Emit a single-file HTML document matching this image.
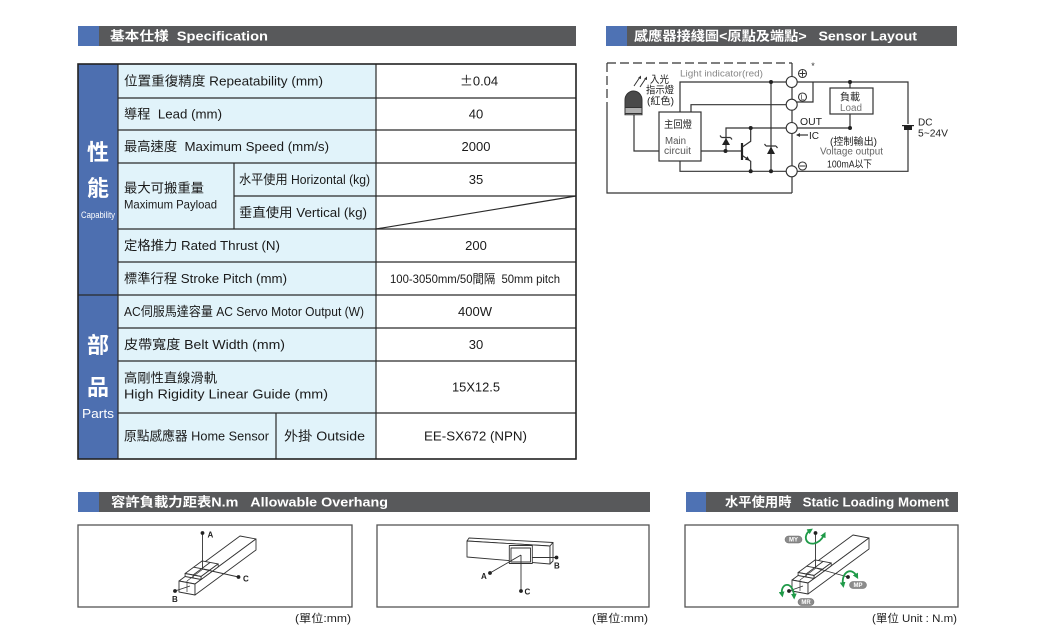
<!DOCTYPE html>
<html><head><meta charset="utf-8"><style>
html,body{margin:0;padding:0;background:#fff;}
svg{display:block;}
text{font-family:"Liberation Sans","Noto Sans CJK TC",sans-serif;}
</style></head><body>
<svg width="1037" height="627" viewBox="0 0 1037 627" xmlns="http://www.w3.org/2000/svg">
<defs>
<marker id="ga" viewBox="0 0 10 10" refX="4" refY="5" markerWidth="3.2" markerHeight="3.2" orient="auto-start-reverse"><path d="M0,0 L10,5 L0,10 z" fill="#1f9a48"/></marker>
</defs>
<rect width="1037" height="627" fill="#fff"/>

<!-- Header bars -->
<rect x="78" y="26" width="498" height="20" fill="#58595b"/>
<rect x="78" y="26" width="21" height="20" fill="#4e72b4"/>
<text x="110" y="40.5" font-size="13" font-weight="bold" fill="#fff" textLength="158" lengthAdjust="spacingAndGlyphs">基本仕様&#160;&#160;Specification</text>

<rect x="606" y="26" width="351" height="20" fill="#58595b"/>
<rect x="606" y="26" width="21" height="20" fill="#4e72b4"/>
<text x="634" y="40.5" font-size="13" font-weight="bold" fill="#fff" textLength="283" lengthAdjust="spacingAndGlyphs">感應器接綫圖&lt;原點及端點&gt;&#160;&#160;&#160;Sensor Layout</text>

<rect x="78" y="492" width="572" height="20" fill="#58595b"/>
<rect x="78" y="492" width="21" height="20" fill="#4e72b4"/>
<text x="111" y="506.5" font-size="13" font-weight="bold" fill="#fff" textLength="277" lengthAdjust="spacingAndGlyphs">容許負載力距表N.m&#160;&#160;&#160;Allowable Overhang</text>

<rect x="686" y="492" width="272" height="20" fill="#58595b"/>
<rect x="686" y="492" width="20" height="20" fill="#4e72b4"/>
<text x="725" y="506.5" font-size="13" font-weight="bold" fill="#fff" textLength="224" lengthAdjust="spacingAndGlyphs">水平使用時&#160;&#160;&#160;Static Loading Moment</text>

<!-- Spec table -->
<rect x="78" y="64" width="40" height="395" fill="#4d6fb0"/>
<rect x="118" y="64" width="258" height="395" fill="#e1f3fa"/>
<rect x="376" y="64" width="200" height="395" fill="#fff"/>
<g stroke="#2a2a2a" stroke-width="1.2" fill="none">
<path d="M118,98H576M118,130H576M118,163H576M234,196H576M118,229H576M118,262H576M118,328H576M118,361H576M118,413H576"/>
<path d="M78,295H576"/>
<path d="M118,64V459M376,64V459M234,163V229M276,413V459"/>
<path d="M376,229L576,196"/>
</g>
<rect x="78" y="64" width="498" height="395" fill="none" stroke="#222" stroke-width="1.6"/>

<g fill="#fff" font-weight="bold" text-anchor="middle">
<text x="98" y="160" font-size="22">性</text>
<text x="98" y="196" font-size="22">能</text>
<text x="98" y="218" font-size="9" font-weight="normal" textLength="34" lengthAdjust="spacingAndGlyphs">Capability</text>
<text x="98" y="353" font-size="22">部</text>
<text x="98" y="395" font-size="22">品</text>
<text x="98" y="418" font-size="13" font-weight="normal" textLength="32" lengthAdjust="spacingAndGlyphs">Parts</text>
</g>

<g fill="#1a1a1a" font-size="13">
<text x="124" y="85.5" textLength="199" lengthAdjust="spacingAndGlyphs">位置重復精度 Repeatability (mm)</text>
<text x="124" y="118.5" textLength="98" lengthAdjust="spacingAndGlyphs">導程&#160;&#160;Lead (mm)</text>
<text x="124" y="151" textLength="205" lengthAdjust="spacingAndGlyphs">最高速度&#160;&#160;Maximum Speed (mm/s)</text>
<text x="124" y="192.5" textLength="80" lengthAdjust="spacingAndGlyphs">最大可搬重量</text>
<text x="124" y="208.5" font-size="12" textLength="93" lengthAdjust="spacingAndGlyphs">Maximum Payload</text>
<text x="239" y="184" textLength="131" lengthAdjust="spacingAndGlyphs">水平使用 Horizontal (kg)</text>
<text x="239" y="217" textLength="128" lengthAdjust="spacingAndGlyphs">垂直使用 Vertical (kg)</text>
<text x="124" y="250" textLength="156" lengthAdjust="spacingAndGlyphs">定格推力 Rated Thrust (N)</text>
<text x="124" y="283" textLength="163" lengthAdjust="spacingAndGlyphs">標準行程 Stroke Pitch (mm)</text>
<text x="124" y="316" textLength="240" lengthAdjust="spacingAndGlyphs">AC伺服馬達容量 AC Servo Motor Output (W)</text>
<text x="124" y="349" textLength="161" lengthAdjust="spacingAndGlyphs">皮帶寬度 Belt Width (mm)</text>
<text x="124" y="382.5" textLength="93" lengthAdjust="spacingAndGlyphs">高剛性直線滑軌</text>
<text x="124" y="398.5" textLength="204" lengthAdjust="spacingAndGlyphs">High Rigidity Linear Guide (mm)</text>
<text x="124" y="440.5" textLength="145" lengthAdjust="spacingAndGlyphs">原點感應器 Home Sensor</text>
<text x="284" y="440.5" textLength="81" lengthAdjust="spacingAndGlyphs">外掛 Outside</text>
</g>
<g fill="#1a1a1a" font-size="13" text-anchor="middle">
<text x="479" y="85.5"><tspan font-family="Noto Sans CJK TC, sans-serif">±</tspan>0.04</text>
<text x="476" y="118.5">40</text>
<text x="476" y="151">2000</text>
<text x="476" y="184">35</text>
<text x="476" y="250">200</text>
<text x="475" y="283" font-size="12" textLength="170" lengthAdjust="spacingAndGlyphs">100-3050mm/50間隔&#160;&#160;50mm pitch</text>
<text x="475" y="316">400W</text>
<text x="476" y="349">30</text>
<text x="476" y="391.5" textLength="48" lengthAdjust="spacingAndGlyphs">15X12.5</text>
<text x="475.5" y="440.5" textLength="103" lengthAdjust="spacingAndGlyphs">EE-SX672 (NPN)</text>
</g>

<!-- Sensor layout -->
<g stroke="#333" stroke-width="1.2" fill="none">
<path d="M607,63H792" stroke-dasharray="9 4"/>
<path d="M607,63V105" stroke-dasharray="9 4"/>
<path d="M607,105V193H792M792,63V193"/>
<path d="M680,112V82H786M797,82H908V124M908,130V171.3H797"/>
<path d="M691,112V104.7H786M797,102H813V82"/>
<path d="M771,82V171.3"/>
<path d="M786,128H726V151M797,128H850V114M850,82V88"/>
<path d="M701,151H742"/>
<path d="M742,147.3L750.7,141.3V128M742,155.3L750.7,161.3V171.3"/>
<path d="M786,171.3H680V161"/>
<path d="M634,114.7V151H659"/>
<path d="M766,146H776M766,146l-1.5,-2M776,146l1.5,2"/>
<path d="M721.5,137.5H730.5M721.5,137.5l-1.5,-2M730.5,137.5l1.5,2"/>
<path d="M797,135H808"/>
<path d="M634,86L640,77M640,87L646,78" stroke-width="1"/>
</g>
<path d="M742,143V160" stroke="#222" stroke-width="2.2"/>
<polygon points="749.8,160.6 745,159.8 747.4,156.2" fill="#222"/>
<polygon points="771,146.5 767,154 775,154" fill="#222"/>
<polygon points="726,138 722,145 730,145" fill="#222"/>
<polygon points="796,135 800,133 800,137" fill="#333"/>
<polygon points="641,75.5 638,78 641,79" fill="#333"/>
<polygon points="647,76.5 644,79 647,80" fill="#333"/>
<rect x="659" y="112" width="42" height="49" fill="#fff" stroke="#333" stroke-width="1.2"/>
<rect x="830" y="88" width="43" height="26" fill="#fff" stroke="#333" stroke-width="1.2"/>
<path d="M625,111V100A8.5,9 0 0 1 642,100V111Z" fill="#4a4a4a" stroke="#333" stroke-width="1"/>
<rect x="625" y="107.5" width="17" height="6" fill="#b0b0b0" stroke="#333" stroke-width="1"/>
<path d="M625,113.5V114.7H642V113.5" fill="none" stroke="#333" stroke-width="1"/>
<rect x="902" y="125" width="12" height="1.2" fill="#222"/>
<rect x="904" y="126" width="8" height="4" fill="#222"/>
<g fill="#fff" stroke="#333" stroke-width="1.1">
<circle cx="791.7" cy="82" r="5.5"/>
<circle cx="791.7" cy="104.7" r="5.5"/>
<circle cx="791.7" cy="128" r="5.5"/>
<circle cx="791.7" cy="171.3" r="5.5"/>
<circle cx="802.5" cy="73.5" r="4"/>
<circle cx="802.5" cy="97" r="4"/>
<circle cx="802.5" cy="166" r="4"/>
</g>
<path d="M799.5,73.5H805.5M802.5,70.5V76.5M799.5,166H805.5" stroke="#333" stroke-width="1"/>
<text x="802.5" y="99.7" font-size="7" text-anchor="middle" fill="#333">L</text>
<text x="813" y="69" font-size="9" text-anchor="middle" fill="#333">*</text>
<g fill="#222" font-size="10">
<circle cx="771" cy="82" r="2"/><circle cx="771" cy="171.3" r="2"/><circle cx="750.7" cy="128" r="2"/>
<circle cx="725.5" cy="151" r="2"/><circle cx="750.7" cy="171.3" r="2"/><circle cx="850" cy="82" r="2"/><circle cx="850" cy="128" r="2"/>
<text x="680" y="76.5" font-size="9.5" fill="#888" textLength="83" lengthAdjust="spacingAndGlyphs">Light indicator(red)</text>
<text x="650" y="83" textLength="19" lengthAdjust="spacingAndGlyphs">入光</text>
<text x="646" y="93.5" textLength="28" lengthAdjust="spacingAndGlyphs">指示燈</text>
<text x="647" y="104.5" textLength="27" lengthAdjust="spacingAndGlyphs">(紅色)</text>
<text x="664" y="128" textLength="28" lengthAdjust="spacingAndGlyphs">主回燈</text>
<text x="665" y="144" fill="#555" textLength="21" lengthAdjust="spacingAndGlyphs">Main</text>
<text x="664" y="154" fill="#555" textLength="27" lengthAdjust="spacingAndGlyphs">circuit</text>
<text x="800" y="125" textLength="22" lengthAdjust="spacingAndGlyphs">OUT</text>
<text x="809" y="139">IC</text>
<text x="830" y="145" textLength="47" lengthAdjust="spacingAndGlyphs">(控制輸出)</text>
<text x="820" y="154.5" fill="#666" textLength="63" lengthAdjust="spacingAndGlyphs">Voltage output</text>
<text x="827" y="167.5" textLength="45" lengthAdjust="spacingAndGlyphs">100mA以下</text>
<text x="840" y="100.5" textLength="20" lengthAdjust="spacingAndGlyphs">負載</text>
<text x="840" y="111" fill="#777" textLength="22" lengthAdjust="spacingAndGlyphs">Load</text>
<text x="918" y="125.5">DC</text>
<text x="918" y="136.5" textLength="30" lengthAdjust="spacingAndGlyphs">5~24V</text>
</g>

<!-- Figure boxes -->
<g fill="#fff" stroke="#555" stroke-width="1.3">
<rect x="78" y="525" width="274" height="82"/>
<rect x="377" y="525" width="272" height="82"/>
<rect x="685" y="525" width="273" height="82"/>
</g>
<g fill="#222" font-size="11">
<text x="351" y="622" text-anchor="end" textLength="56" lengthAdjust="spacingAndGlyphs">(單位:mm)</text>
<text x="648" y="622" text-anchor="end" textLength="56" lengthAdjust="spacingAndGlyphs">(單位:mm)</text>
<text x="957" y="622" text-anchor="end" textLength="85" lengthAdjust="spacingAndGlyphs">(單位 Unit : N.m)</text>
</g>

<!-- Fig 1 rail -->
<g id="rail1" fill="#fff" stroke="#333" stroke-width="0.9" stroke-linejoin="round">
<polygon points="179,581 195,584 256,539 240,536"/>
<polygon points="179,581 195,584 195,595 179,592"/>
<polygon points="195,584 256,539 256,550 195,595"/>
<polygon points="185.1,573.5 201.1,576.5 218.2,563.9 202.2,560.9"/>
<polygon points="185.1,573.5 201.1,576.5 201.1,579.5 185.1,576.5"/>
<polygon points="201.1,576.5 218.2,563.9 218.2,566.9 201.1,579.5"/>
<path d="M193.6,567.2L209.6,570.2M193.1,575L210.2,562.4M193.1,575V578" fill="none"/>
<path d="M187,581V592M187,581L203,569" fill="none" stroke-width="0.7"/>
</g>
<g stroke="#333" stroke-width="0.9" fill="none">
<path d="M202.5,569V533M202.5,569L238.5,577M175,591L190,586"/>
</g>
<g fill="#222">
<circle cx="202.5" cy="533" r="1.9"/><circle cx="238.5" cy="577" r="1.9"/><circle cx="175" cy="591" r="1.9"/>
<text x="207.5" y="537.5" font-size="8" font-weight="bold">A</text>
<text x="243" y="581.5" font-size="8" font-weight="bold">C</text>
<text x="172" y="602" font-size="8" font-weight="bold">B</text>
</g>

<!-- Fig 2 rail -->
<g fill="#fff" stroke="#333" stroke-width="0.9" stroke-linejoin="round">
<polygon points="467,541 550,546 553,542.5 469,538"/>
<polygon points="467,541 550,546 550,564 467,557"/>
<polygon points="550,546 553,542.5 553,561 550,564"/>
<rect x="509.3" y="545.5" width="23" height="18"/>
<rect x="511" y="548" width="19.5" height="14"/>
</g>
<g stroke="#333" stroke-width="0.9" fill="none">
<path d="M521,555L490,573M521,555V591M532,557.5H556.5"/>
</g>
<g fill="#222">
<circle cx="490" cy="573" r="1.9"/><circle cx="521" cy="591" r="1.9"/><circle cx="556.5" cy="557.5" r="1.9"/>
<text x="481" y="579" font-size="8" font-weight="bold">A</text>
<text x="524.5" y="594.5" font-size="8" font-weight="bold">C</text>
<text x="554" y="568.5" font-size="8" font-weight="bold">B</text>
</g>

<!-- Fig 3 rail -->
<use href="#rail1" transform="translate(613,-1)"/>
<g stroke="#333" stroke-width="0.9" fill="none">
<path d="M815.5,568V533M815.5,568L848,577M789,591L803,586"/>
</g>
<g fill="#222">
<circle cx="815.5" cy="533" r="1.9"/><circle cx="848" cy="577" r="1.9"/><circle cx="789" cy="591" r="1.9"/>
</g>
<g fill="none" stroke="#1f9a48" stroke-width="1.8" marker-start="url(#ga)" marker-end="url(#ga)">
<path d="M810,530.5C803,535 805,545 814,543.5C819,542.5 822,539 824,535"/>
<path d="M843,584.5C841,573 851,566 856.5,576"/>
<path d="M782,594C780,583 793,580 794,596"/>
</g>
<g fill="#8c8c8c" stroke="#666" stroke-width="0.5">
<rect x="785" y="536" width="17" height="7" rx="3.5"/>
<rect x="849.5" y="581.5" width="17" height="7" rx="3.5"/>
<rect x="798" y="598.5" width="16" height="7" rx="3.5"/>
</g>
<g fill="#fff" font-size="6" font-weight="bold" text-anchor="middle">
<text x="793.5" y="541.6">MY</text>
<text x="858" y="587.1">MP</text>
<text x="806" y="604.1">MR</text>
</g>
</svg>
</body></html>
